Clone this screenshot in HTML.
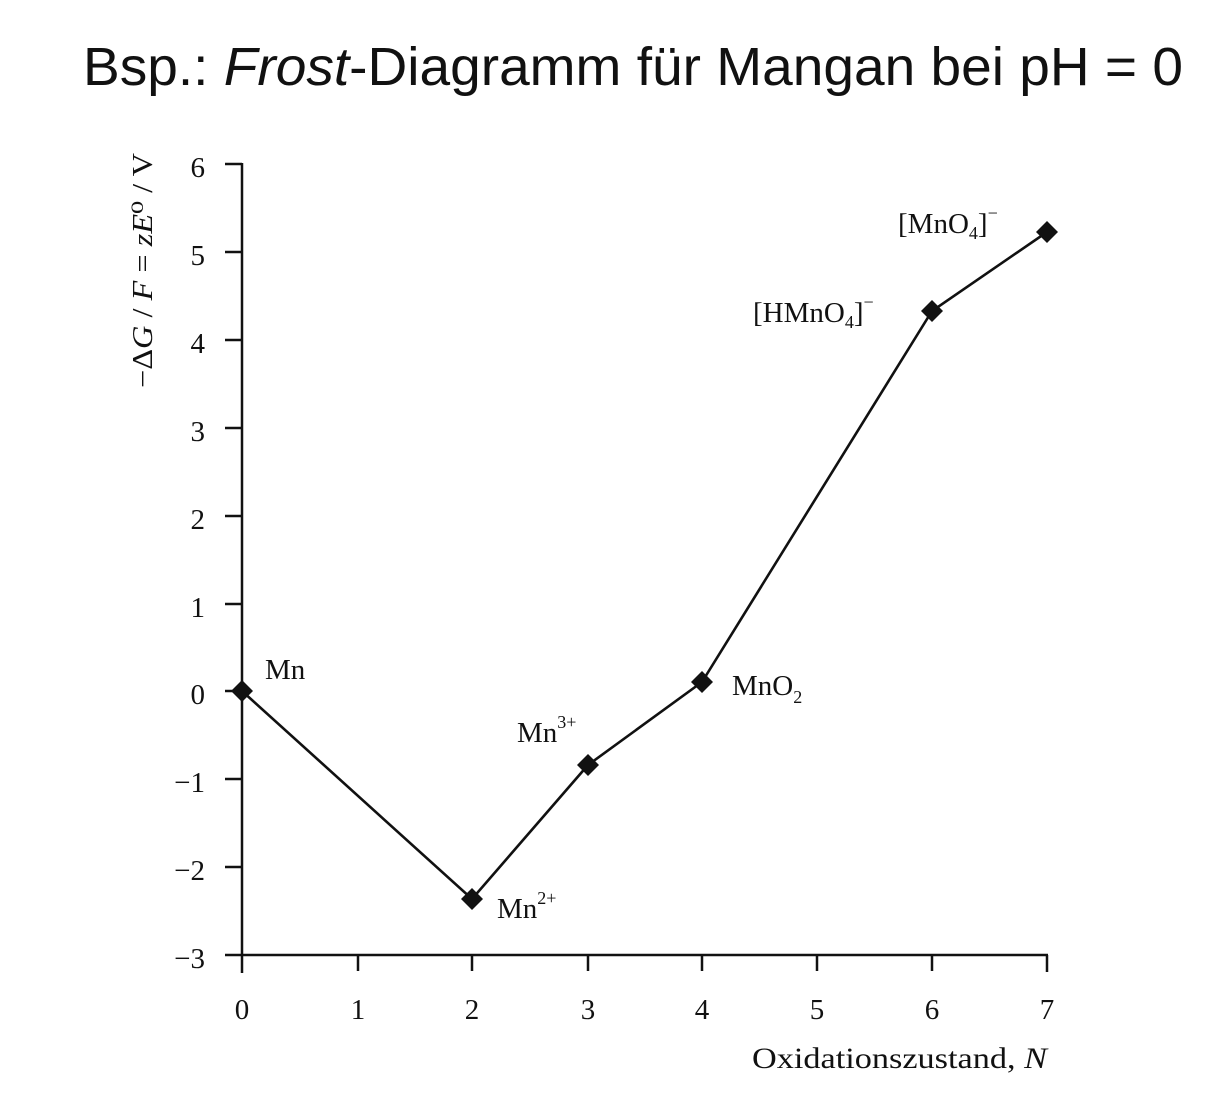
<!DOCTYPE html>
<html><head><meta charset="utf-8"><style>
html,body{margin:0;padding:0;background:#fff;}
svg{display:block;}
</style></head><body>
<svg width="1210" height="1105" viewBox="0 0 1210 1105" xmlns="http://www.w3.org/2000/svg">
<rect width="1210" height="1105" fill="#fff"/>
<text x="83" y="85" font-family="Liberation Sans, DejaVu Sans, sans-serif" font-size="54" fill="#111" textLength="1100" lengthAdjust="spacingAndGlyphs">Bsp.: <tspan font-style="italic">Frost</tspan>-Diagramm für Mangan bei pH = 0</text>

<g stroke="#111" stroke-width="2.5" fill="none">
<line x1="242" y1="163" x2="242" y2="973"/>
<line x1="225" y1="955" x2="1048" y2="955"/>
<line x1="1047" y1="955" x2="1047" y2="972"/>
<line x1="225" y1="164" x2="242" y2="164"/>
<line x1="225" y1="252" x2="242" y2="252"/>
<line x1="225" y1="340" x2="242" y2="340"/>
<line x1="225" y1="428" x2="242" y2="428"/>
<line x1="225" y1="516" x2="242" y2="516"/>
<line x1="225" y1="604" x2="242" y2="604"/>
<line x1="225" y1="691" x2="242" y2="691"/>
<line x1="225" y1="779" x2="242" y2="779"/>
<line x1="225" y1="867" x2="242" y2="867"/>
<line x1="358" y1="955" x2="358" y2="971"/>
<line x1="472" y1="955" x2="472" y2="971"/>
<line x1="588" y1="955" x2="588" y2="971"/>
<line x1="702" y1="955" x2="702" y2="971"/>
<line x1="817" y1="955" x2="817" y2="971"/>
<line x1="932" y1="955" x2="932" y2="971"/>
<polyline points="242,691 472,899 588,765 702,682 932,311 1047,232" stroke-width="2.6"/>
</g>

<g fill="#111">
<path d="M242,680 l11,11 l-11,11 l-11,-11z"/>
<path d="M472,888 l11,11 l-11,11 l-11,-11z"/>
<path d="M588,754 l11,11 l-11,11 l-11,-11z"/>
<path d="M702,671 l11,11 l-11,11 l-11,-11z"/>
<path d="M932,300 l11,11 l-11,11 l-11,-11z"/>
<path d="M1047,221 l11,11 l-11,11 l-11,-11z"/>
</g>

<g font-family="Liberation Serif, DejaVu Serif, serif" font-size="29" fill="#111" text-anchor="end">
<text x="205" y="177">6</text>
<text x="205" y="265">5</text>
<text x="205" y="353">4</text>
<text x="205" y="441">3</text>
<text x="205" y="529">2</text>
<text x="205" y="617">1</text>
<text x="205" y="704">0</text>
<text x="205" y="792">−1</text>
<text x="205" y="880">−2</text>
<text x="205" y="968">−3</text>
</g>
<g font-family="Liberation Serif, DejaVu Serif, serif" font-size="29" fill="#111" text-anchor="middle">
<text x="242" y="1019">0</text>
<text x="358" y="1019">1</text>
<text x="472" y="1019">2</text>
<text x="588" y="1019">3</text>
<text x="702" y="1019">4</text>
<text x="817" y="1019">5</text>
<text x="932" y="1019">6</text>
<text x="1047" y="1019">7</text>
</g>

<text x="752" y="1068" font-family="Liberation Serif, DejaVu Serif, serif" font-size="30" fill="#111" textLength="295" lengthAdjust="spacingAndGlyphs">Oxidationszustand, <tspan font-style="italic">N</tspan></text>

<text transform="translate(152,388) rotate(-90)" x="0" y="0" font-family="Liberation Serif, DejaVu Serif, serif" font-size="28" fill="#111" textLength="235" lengthAdjust="spacingAndGlyphs">−Δ<tspan font-style="italic">G</tspan> / <tspan font-style="italic">F</tspan> = <tspan font-style="italic">zE</tspan>⁰ / V</text>

<g font-family="Liberation Serif, DejaVu Serif, serif" font-size="29" fill="#111">
<text x="265" y="679">Mn</text>
<text x="497" y="918">Mn<tspan font-size="18" dy="-14">2+</tspan></text>
<text x="517" y="742">Mn<tspan font-size="18" dy="-14">3+</tspan></text>
<text x="732" y="695">MnO<tspan font-size="18" dy="8">2</tspan></text>
<text x="753" y="322">[HMnO<tspan font-size="18" dy="6">4</tspan><tspan dy="-6">]</tspan><tspan font-size="18" dy="-14">−</tspan></text>
<text x="898" y="233">[MnO<tspan font-size="18" dy="6">4</tspan><tspan dy="-6">]</tspan><tspan font-size="18" dy="-14">−</tspan></text>
</g>
</svg>
</body></html>
